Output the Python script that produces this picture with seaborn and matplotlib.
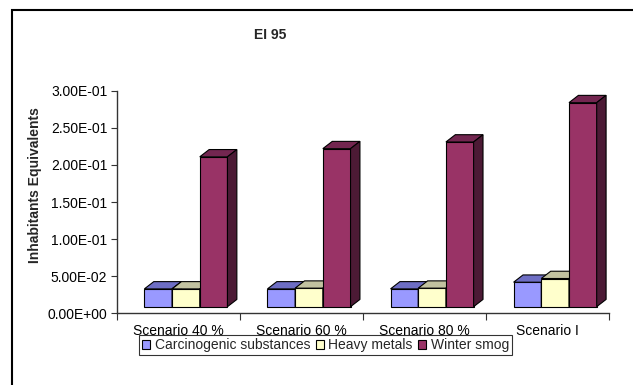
import matplotlib
matplotlib.use("Agg")
import matplotlib.pyplot as plt
from matplotlib.patches import Polygon, Rectangle, Patch
from matplotlib.ticker import FuncFormatter, FixedLocator, NullFormatter
import numpy as np
import pandas as pd
import seaborn as sns

# Data
scenarios = ["Scenario 40 %", "Scenario 60 %", "Scenario 80 %", "Scenario I"]
series = ["Carcinogenic substances", "Heavy metals", "Winter smog"]
carcinogenic = [0.024, 0.024, 0.024, 0.033]
heavy_metals = [0.024, 0.025, 0.025, 0.038]
winter_smog = [0.202, 0.213, 0.222, 0.275]
y_ticks = [0.0, 0.05, 0.10, 0.15, 0.20, 0.25, 0.30]

front_colors = ["#9999FF", "#FFFFCC", "#993366"]
top_colors = ["#6E6EC4", "#C2C2A0", "#732650"]
side_colors = ["#505099", "#999980", "#4C1A35"]

df = pd.DataFrame({
    "scenario": scenarios * 3,
    "series": [s for s in series for _ in scenarios],
    "value": carcinogenic + heavy_metals + winter_smog,
})

sns.set_theme(style="white")
plt.rcParams["font.family"] = ["Liberation Sans", "DejaVu Sans"]

W, H = 633, 385
fig = plt.figure(figsize=(W / 100, H / 100), dpi=100)
ax = fig.add_axes([117 / W, 71.7 / H, (609.3 - 117) / W, (294.3 - 71.7) / H])

sns.barplot(data=df, x="scenario", y="value", hue="series", palette=front_colors,
            width=0.675, gap=0, edgecolor="black", linewidth=0.8,
            saturation=1, legend=False, ax=ax)

# 3-D column look: raise fronts off the floor, add top and side faces
floor = 0.0089
x_shift = 0.06
dx, dy = 0.0764, 0.0098
for i, cont in enumerate(ax.containers):
    for rect in cont:
        rect.set_x(rect.get_x() + x_shift)
        rect.set_y(floor)
        rect.set_zorder(2 + i)
        rect.set_clip_on(False)
        x0 = rect.get_x()
        x1 = x0 + rect.get_width()
        y0 = floor
        y1 = floor + rect.get_height()
        top = Polygon([(x0, y1), (x1, y1), (x1 + dx, y1 + dy), (x0 + dx, y1 + dy)],
                      closed=True, facecolor=top_colors[i], edgecolor="black",
                      linewidth=0.8, zorder=2 + i, clip_on=False)
        side = Polygon([(x1, y0), (x1 + dx, y0 + dy), (x1 + dx, y1 + dy), (x1, y1)],
                       closed=True, facecolor=side_colors[i], edgecolor="black",
                       linewidth=0.8, zorder=2 + i, clip_on=False)
        ax.add_patch(top)
        ax.add_patch(side)

ax.set_xlim(-0.5, 3.5)
ax.set_ylim(0, 0.30)
ax.set_yticks(y_ticks)
ax.yaxis.set_major_formatter(FuncFormatter(lambda v, p: f"{v:.2E}"))
ax.set_xlabel("")
ax.set_ylabel("")

for s in ["top", "right"]:
    ax.spines[s].set_visible(False)
for s in ["left", "bottom"]:
    ax.spines[s].set_color("#333333")
    ax.spines[s].set_linewidth(1.0)

ax.tick_params(axis="y", which="major", direction="out", length=4, width=0.8,
               color="#333333", left=True, labelsize=10, pad=3, labelcolor="black")
ax.tick_params(axis="x", which="major", length=0, labelsize=10, pad=8, labelcolor="black")
ax.xaxis.set_minor_locator(FixedLocator([-0.5, 0.5, 1.5, 2.5, 3.5]))
ax.xaxis.set_minor_formatter(NullFormatter())
ax.tick_params(axis="x", which="minor", direction="out", length=5, width=0.8,
               color="#333333", bottom=True)

fig.text(270 / W, 1 - 35 / H, "EI 95", ha="center", va="center",
         fontsize=10, fontweight="bold")
fig.text(35 / W, 1 - 185 / H, "Inhabitants Equivalents", ha="center", va="center",
         rotation=90, fontsize=10, fontweight="bold")

handles = [Patch(facecolor=c, edgecolor="black", linewidth=0.8) for c in front_colors]
leg = fig.legend(handles, series, loc="center", bbox_to_anchor=(325.5 / W, 1 - 345 / H),
                 ncol=3, frameon=True, fancybox=False, fontsize=10,
                 handlelength=0.6, handleheight=0.6, handletextpad=0.3,
                 columnspacing=0.4, borderpad=0.25, borderaxespad=0)
leg.get_frame().set_edgecolor("black")
leg.get_frame().set_linewidth(0.8)

# chart-area border
fig.add_artist(Rectangle((12 / W, -0.2), 2.0, 1.2 - 10 / H, transform=fig.transFigure,
                         fill=False, edgecolor="black", linewidth=1.5))

fig.savefig("out.png", dpi=100)
